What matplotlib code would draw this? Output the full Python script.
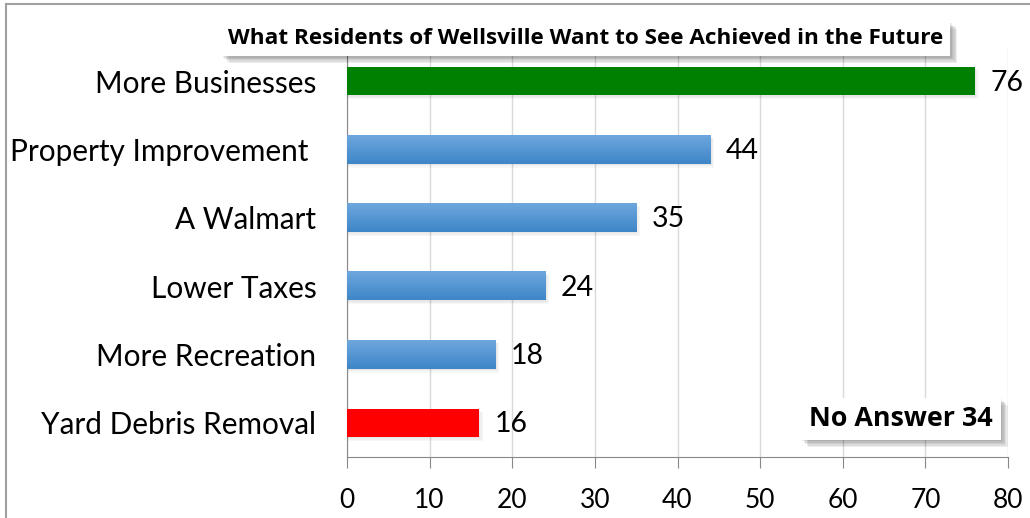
import numpy as np
import matplotlib
matplotlib.use("Agg")
import matplotlib.pyplot as plt
from matplotlib.patches import Rectangle
from matplotlib.colors import LinearSegmentedColormap
import matplotlib.patheffects as pe

plt.rcParams['font.family'] = ['Lato', 'DejaVu Sans']

categories = ["More Businesses", "Property Improvement ", "A Walmart",
              "Lower Taxes", "More Recreation", "Yard Debris Removal"]
values = [76, 44, 35, 24, 18, 16]
bar_colors = ["#008000", "blue", "blue", "blue", "blue", "#ff0000"]
title = "What Residents of Wellsville Want to See Achieved in the Future"
note = "No Answer 34"
xticks = [0, 10, 20, 30, 40, 50, 60, 70, 80]

fig = plt.figure(figsize=(10.3, 5.18), dpi=100)
# outer chart border (cut off at right / bottom like the original)
fig.patches.append(Rectangle((6 / 1030, -0.1), 1.2, (518 - 4) / 518 + 0.1,
                             transform=fig.transFigure, fill=False,
                             edgecolor="#a0a0a0", linewidth=1.5))

ax = fig.add_axes([347 / 1030, 61 / 518, 661 / 1030, 410 / 518])
y = np.arange(len(categories))
h = 0.41

grad = np.linspace(0, 1, 64).reshape(-1, 1)
blue_cmap = LinearSegmentedColormap.from_list("b", ["#6ea7dd", "#3e86c8"])

for yi, v, c in zip(y, values, bar_colors):
    # soft shadow
    for k in range(3):
        ax.barh(yi + 0.02 + 0.015 * k, v + 0.15 + 0.15 * k, height=h + 0.01 * k,
                color="#000000", alpha=0.03, zorder=2, linewidth=0)
    if c == "blue":
        ax.barh(yi, v, height=h, color="none", zorder=3, linewidth=0)
        ax.imshow(grad, cmap=blue_cmap, aspect="auto", zorder=3,
                  extent=(0, v, yi + h / 2, yi - h / 2), interpolation="bilinear")
    else:
        ax.barh(yi, v, height=h, color=c, zorder=3, linewidth=0)
    ax.annotate(str(v), (v, yi), xytext=(11, -1), textcoords="offset points",
                ha="left", va="center", fontsize=20.5, color="black")

ax.set_xlim(0, 80)
ax.set_ylim(len(categories) - 0.5, -0.5)
ax.set_xticks(xticks)
ax.set_yticks(y)
ax.set_yticklabels(categories, fontsize=21.4)
ax.tick_params(axis="y", length=0, pad=22)
ax.tick_params(axis="x", length=8, color="#888888", labelsize=19, pad=14)
ax.grid(axis="x", color="#d9d9d9", linewidth=1, zorder=0)
ax.set_axisbelow(True)
for s in ["top", "right"]:
    ax.spines[s].set_visible(False)
ax.spines["left"].set_color("#888888")
ax.spines["bottom"].set_color("#888888")

shadow = [pe.withSimplePatchShadow(offset=(k, -k), shadow_rgbFace="#000000", alpha=0.07)
          for k in (1, 2, 3, 4, 5)] + [pe.Normal()]
fig.text(586 / 1030, 1 - 39 / 518, title, ha="center", va="center",
         fontsize=16.2, fontweight="bold", family=["Open Sans", "DejaVu Sans"],
         bbox=dict(boxstyle="square,pad=0.3", facecolor="white", edgecolor="none",
                   path_effects=shadow))
fig.text(901 / 1030, 1 - 419 / 518, note, ha="center", va="center",
         fontsize=19.4, fontweight="bold", family=["Open Sans", "DejaVu Sans"],
         bbox=dict(boxstyle="square,pad=0.3", facecolor="white", edgecolor="none",
                   path_effects=shadow))

fig.savefig("out.png", dpi=100)
